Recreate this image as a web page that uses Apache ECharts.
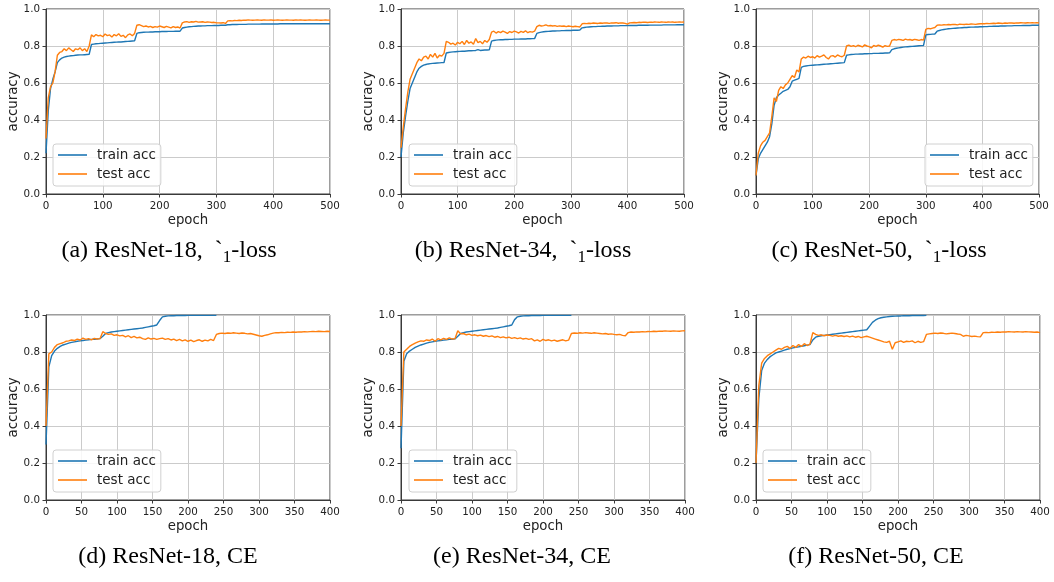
<!DOCTYPE html>
<html>
<head>
<meta charset="utf-8">
<script src="https://cdn.jsdelivr.net/npm/echarts@6/dist/echarts.min.js"></script>
<style>html,body{margin:0;padding:0;background:#fff}#c{width:1054px;height:582px}</style>
</head>
<body>
<div id="c"></div>
<script>
// epoch step between consecutive recorded values
const STEP = 4;
const yTicks = ['0.0','0.2','0.4','0.6','0.8','1.0'];
const seriesNames = ['train acc', 'test acc'];

// (a) ResNet-18, l1-loss  (epochs 0..500)
const trainA = [0.22,0.45,0.57,0.62,0.66,0.71,0.725,0.735,0.74,0.743,0.745,0.747,0.748,0.75,0.751,0.752,0.752,0.753,0.754,0.755,
0.808,0.81,0.812,0.813,0.814,0.815,0.816,0.817,0.818,0.819,0.82,0.821,0.822,0.822,0.823,0.824,0.825,0.826,0.827,0.828,
0.868,0.872,0.873,0.874,0.875,0.875,0.876,0.876,0.877,0.877,0.877,0.878,0.878,0.878,0.879,0.879,0.879,0.88,0.88,0.88,
0.897,0.9,0.902,0.904,0.905,0.906,0.907,0.908,0.908,0.909,0.909,0.91,0.91,0.91,0.911,0.911,0.911,0.912,0.912,0.912,
0.915,0.915,0.916,0.916,0.916,0.917,0.917,0.917,0.917,0.918,0.918,0.918,0.918,0.918,0.918,0.919,0.919,0.919,0.919,0.919,0.919,0.919,0.919,0.92,0.92,0.92,0.92,0.92,0.92,0.92,0.92,0.92,0.92,0.92,0.92,0.92,0.92,0.92,0.92,0.92,0.92,0.92,0.92,0.92,0.92,0.92];
const testA = [0.3,0.52,0.58,0.6,0.66,0.75,0.765,0.77,0.785,0.775,0.79,0.78,0.77,0.785,0.78,0.79,0.775,0.785,0.77,0.8,
0.86,0.85,0.862,0.855,0.858,0.85,0.865,0.856,0.86,0.848,0.862,0.855,0.866,0.852,0.858,0.845,0.86,0.865,0.855,0.868,
0.912,0.915,0.91,0.905,0.908,0.903,0.906,0.9,0.905,0.902,0.908,0.904,0.9,0.906,0.902,0.898,0.905,0.9,0.903,0.897,
0.925,0.93,0.932,0.928,0.931,0.93,0.933,0.929,0.93,0.931,0.928,0.93,0.929,0.927,0.928,0.926,0.925,0.924,0.926,0.922,
0.936,0.937,0.936,0.938,0.937,0.939,0.938,0.94,0.939,0.941,0.94,0.939,0.94,0.941,0.94,0.939,0.941,0.94,0.94,0.941,0.939,0.94,0.941,0.94,0.939,0.94,0.941,0.94,0.94,0.939,0.941,0.94,0.941,0.94,0.939,0.94,0.941,0.94,0.94,0.941,0.94,0.939,0.94,0.941,0.94,0.94];

// (b) ResNet-34, l1-loss
const trainB = [0.2,0.33,0.42,0.5,0.57,0.6,0.63,0.66,0.68,0.69,0.697,0.7,0.703,0.705,0.706,0.707,0.708,0.709,0.71,0.711,
0.762,0.765,0.767,0.768,0.769,0.77,0.771,0.772,0.772,0.773,0.774,0.774,0.775,0.776,0.78,0.776,0.777,0.778,0.778,0.779,
0.826,0.83,0.832,0.833,0.834,0.834,0.835,0.835,0.836,0.836,0.837,0.837,0.837,0.838,0.838,0.838,0.839,0.839,0.84,0.84,
0.868,0.872,0.875,0.877,0.878,0.879,0.88,0.881,0.881,0.882,0.882,0.883,0.883,0.884,0.884,0.884,0.885,0.885,0.885,0.886,
0.898,0.9,0.902,0.903,0.904,0.905,0.905,0.906,0.906,0.907,0.907,0.908,0.908,0.908,0.909,0.909,0.909,0.91,0.91,0.91,0.91,0.911,0.911,0.911,0.911,0.912,0.912,0.912,0.912,0.912,0.913,0.913,0.913,0.913,0.913,0.913,0.914,0.914,0.914,0.914,0.914,0.914,0.915,0.915,0.915,0.915];
const testB = [0.25,0.36,0.46,0.55,0.62,0.65,0.68,0.71,0.73,0.72,0.74,0.745,0.73,0.755,0.74,0.76,0.735,0.75,0.745,0.76,
0.825,0.82,0.81,0.815,0.805,0.82,0.812,0.825,0.808,0.83,0.815,0.822,0.81,0.84,0.818,0.825,0.812,0.83,0.82,0.835,
0.875,0.88,0.87,0.878,0.872,0.88,0.875,0.868,0.878,0.873,0.88,0.876,0.87,0.879,0.874,0.882,0.872,0.878,0.875,0.88,
0.905,0.912,0.908,0.91,0.914,0.909,0.911,0.908,0.91,0.906,0.909,0.907,0.908,0.905,0.908,0.906,0.904,0.907,0.905,0.903,
0.92,0.922,0.921,0.923,0.922,0.924,0.923,0.922,0.924,0.923,0.925,0.924,0.922,0.925,0.924,0.926,0.923,0.925,0.924,0.922,0.918,0.925,0.926,0.927,0.926,0.928,0.927,0.929,0.928,0.927,0.929,0.928,0.93,0.929,0.928,0.93,0.929,0.928,0.93,0.929,0.93,0.928,0.929,0.93,0.929,0.93];

// (c) ResNet-50, l1-loss
const trainC = [0.1,0.19,0.22,0.24,0.26,0.28,0.31,0.38,0.48,0.52,0.535,0.545,0.555,0.56,0.565,0.58,0.61,0.615,0.62,0.625,
0.685,0.69,0.692,0.694,0.695,0.696,0.697,0.698,0.699,0.7,0.701,0.702,0.703,0.704,0.705,0.706,0.707,0.708,0.709,0.71,
0.75,0.752,0.754,0.755,0.756,0.756,0.757,0.757,0.758,0.758,0.759,0.759,0.76,0.76,0.76,0.761,0.761,0.762,0.762,0.763,
0.78,0.785,0.788,0.79,0.792,0.794,0.795,0.796,0.797,0.798,0.799,0.8,0.801,0.802,0.803,
0.86,0.862,0.863,0.864,0.865,
0.88,0.884,0.887,0.889,0.891,0.893,0.894,0.895,0.896,0.897,0.898,0.899,0.9,0.9,0.901,0.902,0.902,0.903,0.903,0.904,0.904,0.905,0.905,0.906,0.906,0.907,0.907,0.907,0.908,0.908,0.908,0.909,0.909,0.909,0.91,0.91,0.91,0.91,0.911,0.911,0.911,0.911,0.912,0.912,0.912,0.912];
const testC = [0.1,0.22,0.26,0.28,0.29,0.31,0.33,0.42,0.52,0.5,0.56,0.58,0.57,0.59,0.6,0.62,0.64,0.63,0.67,0.66,
0.73,0.74,0.735,0.745,0.738,0.742,0.735,0.748,0.74,0.745,0.752,0.738,0.73,0.745,0.748,0.74,0.752,0.745,0.742,0.75,
0.8,0.805,0.798,0.802,0.796,0.804,0.8,0.795,0.806,0.8,0.797,0.79,0.803,0.798,0.805,0.8,0.794,0.802,0.798,0.8,
0.83,0.835,0.832,0.836,0.834,0.83,0.837,0.833,0.835,0.831,0.836,0.834,0.83,0.835,0.832,
0.89,0.895,0.893,0.897,0.9,
0.912,0.914,0.913,0.915,0.914,0.916,0.915,0.917,0.916,0.914,0.918,0.917,0.916,0.918,0.917,0.919,0.918,0.917,0.919,0.92,0.921,0.92,0.922,0.921,0.922,0.923,0.922,0.924,0.923,0.922,0.924,0.923,0.925,0.924,0.923,0.925,0.924,0.926,0.925,0.924,0.926,0.925,0.926,0.925,0.926,0.925];

// (d) ResNet-18, CE  (epochs 0..400, train recorded to 240)
const trainD = [0.3,0.72,0.78,0.805,0.82,0.83,0.838,0.843,0.848,0.852,0.855,0.858,0.86,0.862,0.864,0.866,0.868,0.869,0.87,0.872,
0.885,0.9,0.905,0.908,0.91,0.912,0.914,0.916,0.918,0.92,0.922,0.924,0.926,0.928,0.93,0.933,0.936,0.939,0.942,0.946,
0.97,0.99,0.993,0.995,0.996,0.996,0.997,0.997,0.997,0.997,0.998,0.998,0.998,0.998,0.998,0.998,0.998,0.998,0.998,0.998,
0.998];
const testD = [0.4,0.79,0.8,0.825,0.84,0.845,0.85,0.858,0.86,0.865,0.862,0.87,0.865,0.875,0.868,0.872,0.866,0.874,0.87,0.872,
0.91,0.9,0.895,0.898,0.89,0.893,0.887,0.89,0.882,0.888,0.878,0.884,0.876,0.88,0.872,0.868,0.876,0.87,0.874,0.868,
0.872,0.875,0.868,0.872,0.865,0.87,0.862,0.868,0.86,0.866,0.858,0.864,0.856,0.862,0.866,0.858,0.864,0.86,0.868,0.862,
0.895,0.9,0.902,0.9,0.903,0.901,0.904,0.902,0.9,0.903,0.901,0.898,0.9,0.896,0.892,0.888,0.885,0.89,0.893,0.898,
0.902,0.905,0.904,0.906,0.905,0.907,0.906,0.908,0.907,0.909,0.908,0.91,0.909,0.91,0.911,0.91,0.912,0.911,0.91,0.912,0.911];

// (e) ResNet-34, CE
const trainE = [0.28,0.75,0.79,0.805,0.815,0.825,0.832,0.838,0.843,0.848,0.852,0.855,0.858,0.86,0.862,0.864,0.866,0.868,0.869,0.871,
0.885,0.9,0.905,0.908,0.91,0.912,0.914,0.916,0.918,0.92,0.922,0.924,0.926,0.928,0.93,0.933,0.936,0.939,0.942,0.946,
0.975,0.99,0.993,0.995,0.996,0.996,0.997,0.997,0.997,0.997,0.998,0.998,0.998,0.998,0.998,0.998,0.998,0.998,0.998,0.998,
0.998];
const testE = [0.4,0.8,0.815,0.83,0.84,0.848,0.855,0.86,0.858,0.865,0.862,0.87,0.858,0.872,0.866,0.874,0.868,0.876,0.87,0.872,
0.915,0.898,0.9,0.893,0.897,0.89,0.893,0.888,0.891,0.885,0.889,0.883,0.887,0.88,0.884,0.878,0.882,0.876,0.88,0.874,
0.878,0.872,0.876,0.87,0.874,0.868,0.872,0.86,0.866,0.858,0.868,0.862,0.866,0.86,0.864,0.858,0.862,0.866,0.86,0.864,
0.9,0.903,0.901,0.904,0.902,0.905,0.903,0.901,0.904,0.902,0.9,0.898,0.9,0.896,0.898,0.895,0.893,0.895,0.89,0.888,
0.905,0.908,0.907,0.909,0.908,0.91,0.909,0.911,0.91,0.912,0.911,0.913,0.912,0.914,0.913,0.912,0.914,0.913,0.912,0.914,0.915];

// (f) ResNet-50, CE
const trainF = [0.2,0.55,0.7,0.74,0.76,0.775,0.785,0.795,0.8,0.805,0.81,0.815,0.818,0.822,0.825,0.828,0.831,0.834,0.837,0.84,
0.865,0.88,0.885,0.888,0.89,0.892,0.894,0.896,0.898,0.9,0.902,0.904,0.906,0.908,0.91,0.912,0.914,0.916,0.918,0.92,
0.94,0.96,0.972,0.98,0.985,0.988,0.99,0.992,0.993,0.994,0.995,0.995,0.996,0.996,0.996,0.997,0.997,0.997,0.997,0.997,
0.998];
const testF = [0.2,0.62,0.74,0.765,0.78,0.79,0.8,0.81,0.82,0.815,0.825,0.83,0.82,0.835,0.825,0.84,0.83,0.845,0.835,0.842,
0.905,0.895,0.89,0.893,0.888,0.892,0.89,0.886,0.89,0.885,0.888,0.884,0.887,0.882,0.886,0.88,0.884,0.878,0.882,0.885,
0.88,0.875,0.87,0.865,0.86,0.855,0.852,0.858,0.815,0.85,0.855,0.86,0.852,0.858,0.856,0.86,0.85,0.858,0.852,0.856,
0.895,0.898,0.9,0.902,0.9,0.903,0.901,0.898,0.9,0.902,0.9,0.897,0.895,0.885,0.89,0.887,0.884,0.886,0.883,0.882,
0.905,0.906,0.905,0.907,0.906,0.908,0.907,0.909,0.908,0.91,0.909,0.908,0.91,0.909,0.908,0.91,0.909,0.908,0.907,0.908,0.905];

const captions = [
  '(a) ResNet-18,  `{s|1}-loss', '(b) ResNet-34,  `{s|1}-loss', '(c) ResNet-50,  `{s|1}-loss',
  '(d) ResNet-18, CE', '(e) ResNet-34, CE', '(f) ResNet-50, CE'
];

const panels = [
  {grid:{left:46,top:9,width:284,height:185}, xmax:500, xint:100, train:trainA, test:testA, lg:{left:53,top:144}, cap:[169,251]},
  {grid:{left:401,top:9,width:283,height:185}, xmax:500, xint:100, train:trainB, test:testB, lg:{left:409,top:144}, cap:[523,251]},
  {grid:{left:756,top:9,width:283,height:185}, xmax:500, xint:100, train:trainC, test:testC, lg:{left:925,top:144}, cap:[879,251]},
  {grid:{left:46,top:315,width:284,height:185}, xmax:400, xint:50, train:trainD, test:testD, lg:{left:53,top:450}, cap:[168,557]},
  {grid:{left:401,top:315,width:284,height:185}, xmax:400, xint:50, train:trainE, test:testE, lg:{left:409,top:450}, cap:[522,557]},
  {grid:{left:756,top:315,width:284,height:185}, xmax:400, xint:50, train:trainF, test:testF, lg:{left:763,top:450}, cap:[876,557]}
];

const FONT = 'DejaVu Sans';
const frame = '#3a3a3a';
const gridCol = '#cbcbcb';
const pairs = arr => arr.map((v, i) => [i * STEP, v]);

const option = {animation:false, backgroundColor:'#fff', grid:[], xAxis:[], yAxis:[], series:[], legend:[], graphic:[]};

panels.forEach((p, k) => {
  option.grid.push(Object.assign({show:true, borderColor:frame, borderWidth:1, backgroundColor:'transparent', containLabel:false}, p.grid));
  option.xAxis.push({
    type:'value', gridIndex:k, min:0, max:p.xmax, interval:p.xint,
    name:'epoch', nameLocation:'middle', nameGap:20,
    nameTextStyle:{fontFamily:FONT, fontSize:13.3, color:'#222'},
    axisLine:{show:true, lineStyle:{color:frame, width:1}},
    axisTick:{show:true, inside:false, length:3.5, lineStyle:{color:frame}},
    axisLabel:{fontFamily:FONT, fontSize:10.3, color:'#222', margin:7},
    splitLine:{show:true, lineStyle:{color:gridCol, width:1}}
  });
  option.yAxis.push({
    type:'value', gridIndex:k, min:0, max:1, interval:0.2,
    name:'accuracy', nameLocation:'middle', nameGap:26,
    nameTextStyle:{fontFamily:FONT, fontSize:13.3, color:'#222'},
    axisLine:{show:true, lineStyle:{color:frame, width:1}},
    axisTick:{show:true, inside:false, length:3.5, lineStyle:{color:frame}},
    axisLabel:{fontFamily:FONT, fontSize:10.3, color:'#222', margin:6,
      formatter:v => yTicks[Math.round(v / 0.2)]},
    splitLine:{show:true, lineStyle:{color:gridCol, width:1}}
  });
  option.series.push({
    type:'line', name:seriesNames[0], xAxisIndex:k, yAxisIndex:k, data:pairs(p.train),
    symbol:'none', showSymbol:false, lineStyle:{color:'#1f77b4', width:1.4}, itemStyle:{color:'#1f77b4'}, z:2
  });
  option.series.push({
    type:'line', name:seriesNames[1], xAxisIndex:k, yAxisIndex:k, data:pairs(p.test),
    symbol:'none', showSymbol:false, lineStyle:{color:'#ff7f0e', width:1.4}, itemStyle:{color:'#ff7f0e'}, z:3
  });
  option.legend.push({
    data:seriesNames, orient:'vertical', left:p.lg.left, top:p.lg.top,
    icon:'rect', itemWidth:29, itemHeight:1.6, itemGap:5, padding:[4,5,5,5],
    backgroundColor:'rgba(255,255,255,0.85)', borderColor:'#d0d0d0', borderWidth:1, borderRadius:3,
    textStyle:{fontFamily:FONT, fontSize:13.5, color:'#222', lineHeight:14, padding:[0,0,0,5]},
    selectedMode:false
  });
  option.graphic.push({
    type:'text', x:p.cap[0], y:p.cap[1], silent:true,
    style:{
      text:captions[k], fontFamily:'Liberation Serif', fontSize:24, fill:'#000',
      align:'center', verticalAlign:'middle', textAlign:'center', textVerticalAlign:'middle',
      rich:{s:{fontFamily:'Liberation Serif', fontSize:17, verticalAlign:'bottom', lineHeight:30}}
    }
  });
});

const chart = echarts.init(document.getElementById('c'), null, {renderer:'canvas'});
chart.setOption(option);
</script>
</body>
</html>
